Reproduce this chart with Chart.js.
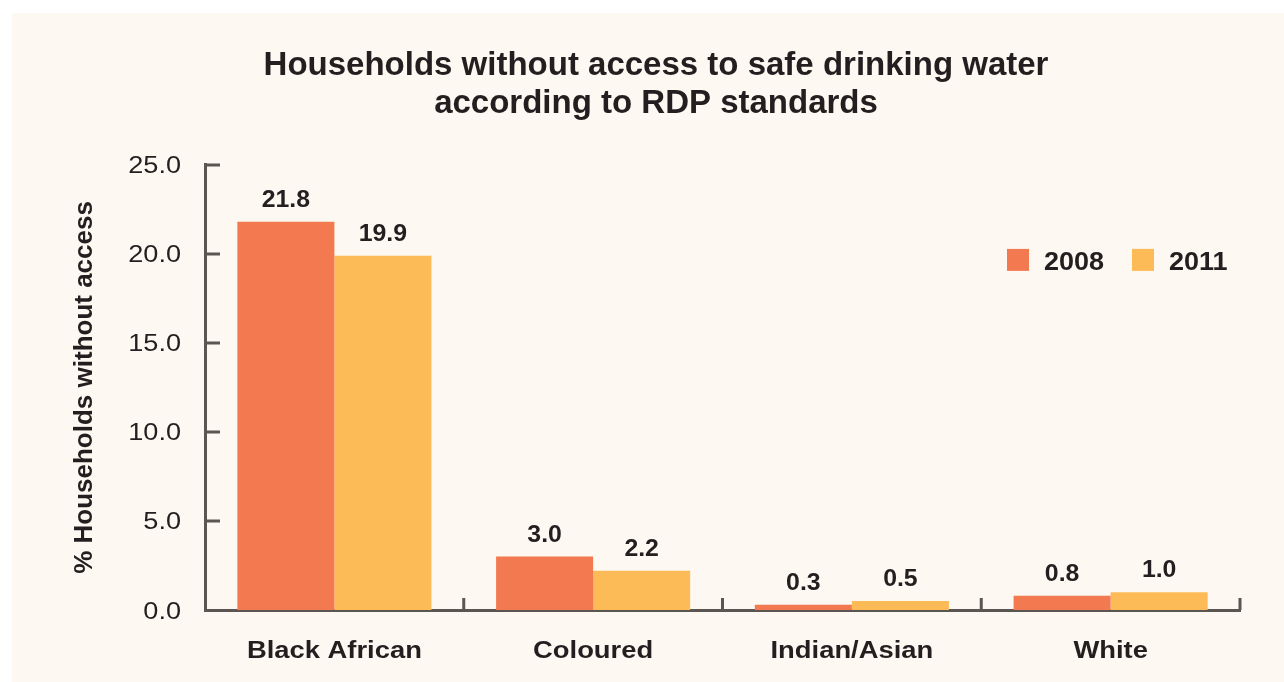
<!DOCTYPE html>
<html lang="en">
<head>
  <meta charset="UTF-8">
  <title>Households without access to safe drinking water</title>
  <script src="https://cdn.jsdelivr.net/npm/chart.js"></script>
  <style>
    html, body {
      margin: 0;
      padding: 0;
      background: #ffffff;
      overflow: hidden;
    }
    #wrap {
      width: 1284px;
      height: 682px;
    }
  </style>
</head>
<body>
  <div id="wrap"><canvas id="chart"></canvas></div>

<script>
const groups = ["Black African", "Coloured", "Indian/Asian", "White"];
const years = ["2008", "2011"];
const values2008 = [21.8, 3.0, 0.3, 0.8];
const values2011 = [19.9, 2.2, 0.5, 1.0];
const yTicks = [0, 5, 10, 15, 20, 25];

const axisColor = '#5b5651';
const textColor = '#231f20';
const font = '"Liberation Sans", Arial, sans-serif';

// cream panel behind everything
const panelBg = {
  id: 'panelBg',
  beforeDraw(chart) {
    const ctx = chart.ctx;
    ctx.save();
    ctx.fillStyle = '#ffffff';
    ctx.fillRect(0, 0, chart.width, chart.height);
    ctx.fillStyle = '#fdf8f1';
    ctx.fillRect(12, 13, chart.width - 12, chart.height - 13);
    ctx.restore();
  }
};

// tick marks drawn inward (y ticks to the right, category dividers upward)
const innerTicks = {
  id: 'innerTicks',
  afterDraw(chart) {
    const ctx = chart.ctx;
    const area = chart.chartArea;
    const y = chart.scales.y;
    ctx.save();
    ctx.strokeStyle = axisColor;
    ctx.lineWidth = 3;
    ctx.beginPath();
    y.ticks.forEach(t => {
      if (t.value === 0) return;
      const py = y.getPixelForValue(t.value);
      ctx.moveTo(area.left, py);
      ctx.lineTo(area.left + 15, py);
    });
    const n = groups.length;
    const w = (area.right - area.left) / n;
    for (let i = 1; i <= n; i++) {
      const px = area.left + i * w;
      ctx.moveTo(px, area.bottom);
      ctx.lineTo(px, area.bottom - 12);
    }
    ctx.stroke();
    ctx.restore();
  }
};

// axis labels, drawn a bit wide like the original print
function wideText(ctx, str, x, y, sx) {
  ctx.save();
  ctx.translate(x, y);
  ctx.scale(sx, 1);
  ctx.fillText(str, 0, 0);
  ctx.restore();
}

const axisLabels = {
  id: 'axisLabels',
  afterDraw(chart) {
    const ctx = chart.ctx;
    const area = chart.chartArea;
    const x = chart.scales.x;
    const y = chart.scales.y;
    ctx.save();
    ctx.fillStyle = textColor;
    ctx.textBaseline = 'alphabetic';

    ctx.font = 'bold 23px ' + font;
    ctx.textAlign = 'center';
    groups.forEach((g, i) => {
      wideText(ctx, g, x.getPixelForValue(i), area.bottom + 48, 1.19);
    });

    ctx.font = '24px ' + font;
    ctx.textAlign = 'right';
    y.ticks.forEach(t => {
      wideText(ctx, t.value.toFixed(1), area.left - 24, y.getPixelForValue(t.value) + 8.5, 1.13);
    });
    ctx.restore();
  }
};

// value labels above bars
const barLabels = {
  id: 'barLabels',
  afterDatasetsDraw(chart) {
    const ctx = chart.ctx;
    ctx.save();
    ctx.font = 'bold 23px ' + font;
    ctx.fillStyle = textColor;
    ctx.textAlign = 'center';
    ctx.textBaseline = 'alphabetic';
    chart.data.datasets.forEach((ds, i) => {
      chart.getDatasetMeta(i).data.forEach((bar, j) => {
        wideText(ctx, ds.data[j].toFixed(1), bar.x, bar.y - 15, 1.08);
      });
    });
    ctx.restore();
  }
};

// legend inside the plot, upper right
const insideLegend = {
  id: 'insideLegend',
  afterDraw(chart) {
    const ctx = chart.ctx;
    const area = chart.chartArea;
    ctx.save();
    ctx.font = 'bold 25px ' + font;
    ctx.textBaseline = 'alphabetic';
    ctx.textAlign = 'left';
    let x = area.right - 233;
    const top = area.top + 84;
    chart.data.datasets.forEach(ds => {
      ctx.fillStyle = ds.backgroundColor;
      ctx.fillRect(x, top, 22, 22);
      ctx.fillStyle = textColor;
      wideText(ctx, ds.label, x + 37, top + 21, 1.08);
      x += 125;
    });
    ctx.restore();
  }
};

new Chart(document.getElementById('chart'), {
  type: 'bar',
  data: {
    labels: groups,
    datasets: [
      { label: years[0], data: values2008, backgroundColor: '#f37a50' },
      { label: years[1], data: values2011, backgroundColor: '#fdbb57' }
    ]
  },
  options: {
    responsive: true,
    maintainAspectRatio: false,
    animation: false,
    layout: { padding: { left: 72, right: 44, top: 0, bottom: 0 } },
    datasets: {
      bar: { categoryPercentage: 0.75, barPercentage: 1.0 }
    },
    plugins: {
      legend: { display: false },
      tooltip: { enabled: false },
      title: {
        display: true,
        text: ['Households without access to safe drinking water', 'according to RDP standards'],
        color: textColor,
        font: { family: font, size: 33, weight: 'bold', lineHeight: 1.15 },
        padding: { top: 47, bottom: 42 }
      }
    },
    scales: {
      x: {
        grid: { display: false },
        border: { color: axisColor, width: 3 },
        ticks: { display: false },
        afterFit(scale) { scale.height = 72; }
      },
      y: {
        min: 0,
        max: 25,
        grid: { display: false },
        border: { color: axisColor, width: 3 },
        afterBuildTicks(scale) {
          scale.ticks = yTicks.map(v => ({ value: v }));
        },
        ticks: { display: false },
        title: {
          display: true,
          text: '% Households without access',
          color: textColor,
          font: { family: font, size: 26, weight: 'bold', lineHeight: 1 },
          padding: { top: 0, bottom: 0 }
        },
        afterFit(scale) { scale.width = 133; }
      }
    }
  },
  plugins: [panelBg, innerTicks, axisLabels, barLabels, insideLegend]
});
</script>
</body>
</html>
